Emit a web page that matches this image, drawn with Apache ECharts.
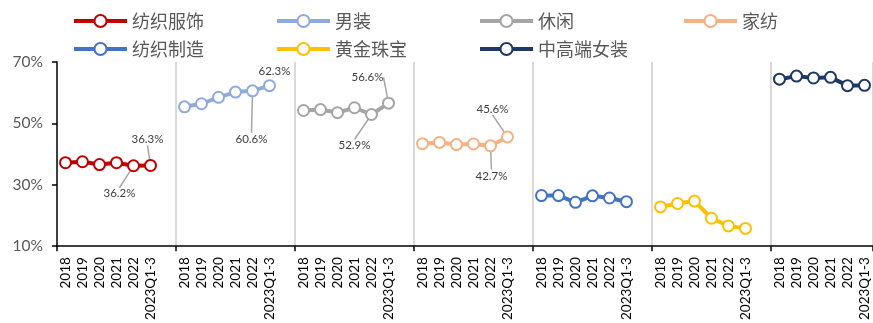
<!DOCTYPE html>
<html>
<head>
<meta charset="utf-8">
<script src="https://cdn.jsdelivr.net/npm/echarts@6/dist/echarts.min.js"></script>
<style>
  html, body { margin: 0; padding: 0; background: #fff; }
  #chart { width: 873px; height: 323px; }
</style>
</head>
<body>
<div id="chart"></div>
<script>
// Periods shown under every segment
const periods = ['2018', '2019', '2020', '2021', '2022', '2023Q1-3'];

// Segment names (legend + series)
const segmentNames = ['纺织服饰', '男装', '休闲', '家纺', '纺织制造', '黄金珠宝', '中高端女装'];

// Gross margin by segment, %
const textileApparel       = [37.2, 37.5, 36.6, 37.2, 36.2, 36.3];
const menswear             = [55.4, 56.4, 58.5, 60.2, 60.6, 62.3];
const casualwear           = [54.2, 54.5, 53.5, 55.1, 52.9, 56.6];
const homeTextiles         = [43.4, 43.8, 43.1, 43.3, 42.7, 45.6];
const textileManufacturing = [26.5, 26.5, 24.3, 26.4, 25.7, 24.5];
const goldJewelry          = [22.8, 23.9, 24.7, 19.1, 16.6, 15.8];
const womenswear           = [64.4, 65.4, 64.8, 65.0, 62.3, 62.4];

// Value axis ticks, %
const yTicks = [10, 30, 50, 70];

// Points that carry a value label (index within the segment)
const labeledPoints = {
  '纺织服饰': [4, 5],
  '男装': [4, 5],
  '休闲': [4, 5],
  '家纺': [4, 5]
};

const segmentValues = [textileApparel, menswear, casualwear, homeTextiles,
                       textileManufacturing, goldJewelry, womenswear];

// ---- styling / layout ----
const colors = ['#C00000', '#8FAADC', '#A5A5A5', '#F4B183', '#4472C4', '#FFC000', '#1F3864'];
const SLOTS_PER_SEGMENT = periods.length + 1;          // one empty slot between segments
const totalSlots = segmentNames.length * SLOTS_PER_SEGMENT - 1;

// label displacement from its point, px
const labelShift = {
  '纺织服饰': { 4: [-14, 28], 5: [-3, -26] },
  '男装':     { 4: [-1, 48],  5: [5, -14] },
  '休闲':     { 4: [-17, 31], 5: [-21, -26] },
  '家纺':     { 4: [1, 30],   5: [-15, -28] }
};
const noGuide = { '男装': [5] };

// category slots: six periods per segment, blank slot as a spacer
const categories = [];
segmentNames.forEach((_, g) => {
  periods.forEach(p => categories.push(p));
  if (g < segmentNames.length - 1) categories.push('');
});

const series = segmentNames.map((name, g) => {
  const start = g * SLOTS_PER_SEGMENT;
  const data = new Array(totalSlots).fill('-');
  const marked = labeledPoints[name] || [];
  segmentValues[g].forEach((v, i) => {
    if (marked.includes(i)) {
      const item = { value: v, label: { show: true } };
      if ((noGuide[name] || []).includes(i)) item.labelLine = { show: false };
      data[start + i] = item;
    } else {
      data[start + i] = v;
    }
  });
  return {
    name: name,
    type: 'line',
    data: data,
    color: colors[g],
    symbol: 'emptyCircle',
    symbolSize: 11,
    showAllSymbol: true,
    itemStyle: { borderWidth: 2.5 },
    lineStyle: { width: 4 },
    emphasis: { disabled: true },
    label: {
      show: false,
      position: 'inside',
      formatter: p => Number(p.value).toFixed(1) + '%',
      fontFamily: 'Lato',
      fontSize: 11.5,
      color: '#404040'
    },
    labelLine: { show: true, lineStyle: { color: '#A6A6A6', width: 1.5 } },
    labelLayout: params => {
      const idx = params.dataIndex - start;
      const s = (labelShift[name] || {})[idx];
      return s ? { dx: s[0], dy: s[1] } : {};
    }
  };
});

// legend in four columns, two rows
const legendColumns = [
  ['纺织服饰', '纺织制造'],
  ['男装', '黄金珠宝'],
  ['休闲', '中高端女装'],
  ['家纺']
];
const legendLeft = [72, 275, 478, 682];

const option = {
  animation: false,
  backgroundColor: '#fff',
  grid: { left: 57, top: 62, width: 816, height: 186, containLabel: false },
  legend: legendColumns.map((names, c) => ({
    data: names,
    orient: 'vertical',
    left: legendLeft[c],
    top: 12,
    padding: 0,
    itemWidth: 53,
    itemHeight: 15,
    itemGap: 10,
    selectedMode: false,
    lineStyle: { width: 4 },
    itemStyle: { borderWidth: 2.5 },
    textStyle: { fontFamily: 'Noto Sans CJK SC', fontSize: 18, color: '#595959' }
  })),
  xAxis: {
    type: 'category',
    data: categories,
    boundaryGap: true,
    axisLine: { show: true, lineStyle: { color: '#000', width: 1.5 } },
    axisTick: { show: true, length: 5, interval: i => i % SLOTS_PER_SEGMENT === 0,
                lineStyle: { color: '#000', width: 1.5 } },
    splitLine: { show: true, interval: i => i > 0 && i % SLOTS_PER_SEGMENT === 0,
                 lineStyle: { color: '#D9D9D9', width: 2 } },
    axisLabel: {
      interval: 0,
      rotate: 90,
      margin: 11,
      fontFamily: 'Lato',
      fontSize: 13.5,
      color: '#000'
    }
  },
  yAxis: {
    type: 'value',
    min: yTicks[0],
    max: yTicks[yTicks.length - 1],
    interval: yTicks[1] - yTicks[0],
    axisLine: { show: true, lineStyle: { color: '#000', width: 1.5 } },
    axisTick: { show: true, length: 5, lineStyle: { color: '#000', width: 1.5 } },
    splitLine: { show: false },
    axisLabel: {
      formatter: '{value}%',
      margin: 14,
      fontFamily: 'Lato',
      fontSize: 15.5,
      color: '#595959'
    }
  },
  series: series
};

const chart = echarts.init(document.getElementById('chart'), null, { renderer: 'canvas' });
chart.setOption(option);
</script>
</body>
</html>
